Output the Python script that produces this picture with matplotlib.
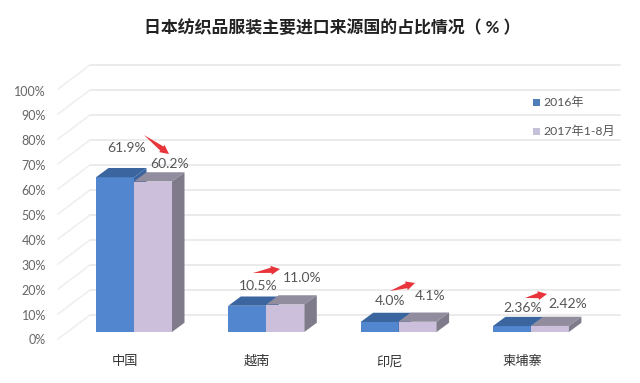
import matplotlib
matplotlib.use("Agg")
import numpy as np
import matplotlib.pyplot as plt
from matplotlib.patches import Polygon
from matplotlib.transforms import Affine2D

plt.rcParams['font.family'] = ['Lato', 'Noto Sans CJK SC', 'DejaVu Sans']

countries = ['中国', '越南', '印尼', '柬埔寨']
series_names = ['2016年', '2017年1-8月']
values_2016 = [61.9, 10.5, 4.0, 2.36]
values_2017 = [60.2, 11.0, 4.1, 2.42]
labels_2016 = ['61.9%', '10.5%', '4.0%', '2.36%']
labels_2017 = ['60.2%', '11.0%', '4.1%', '2.42%']
y_ticks = list(range(0, 101, 10))

W, H = 640, 383
# pixels of the picture -> display, y going down like in the reference
px = Affine2D().scale(1, -1).translate(0, H)

fig = plt.figure(figsize=(W / 100, H / 100), dpi=100)
ax = fig.add_axes([0, 0, 1, 1])
ax.axis('off')

# 132.3 px between groups, 2.5 px per percent, zero at y=332
ax.set_xlim(-134 / 132.3, (W - 134) / 132.3)
ax.set_ylim((332 - H) / 2.5, 332 / 2.5)

x = np.arange(len(countries))
bw = 38 / 132.3
dx = 12.5 / 132.3
dy = 3.7

# 3d walls: back gridlines and the slanted bit on the left
back = 6.8
front = -2.8
x_back = (90 - 134) / 132.3
x_front = (58 - 134) / 132.3
x_end = (620 - 134) / 132.3
for t in y_ticks:
    ax.plot([x_back, x_end], [t + back, t + back], color='#e6e6e6', lw=1.1, zorder=1)
    ax.plot([x_front, x_back], [t + front, t + back], color='#eeeeee', lw=1.1, zorder=1)
    ax.text(46, 340.5 - 2.49 * t, '%d%%' % t, transform=px, ha='right', va='center',
            fontsize=9, color='#666666')

colors = [('#5286cf', '#3a659f', '#3a659f'), ('#cbbfdc', '#928c9f', '#7f7b8b')]


def bar3d(xpos, vals, cols, z):
    ax.bar(xpos, vals, bw, align='edge', color=cols[0], zorder=z)
    for xi, v in zip(xpos, vals):
        ax.add_patch(Polygon([(xi, v), (xi + bw, v), (xi + bw + dx, v + dy), (xi + dx, v + dy)],
                             color=cols[1], lw=0, zorder=z))
        ax.add_patch(Polygon([(xi + bw, 0), (xi + bw + dx, dy), (xi + bw + dx, v + dy), (xi + bw, v)],
                             color=cols[2], lw=0, zorder=z))


bar3d(x - bw, values_2016, colors[0], 3)
bar3d(x, values_2017, colors[1], 4)

# label offsets from the bar's left edge and top, in px
off_2016 = [(31, 29), (30, 20), (29, 21), (30, 18)]
off_2017 = [(36, 17), (36, 27), (32, 26), (37, 22)]
for i in range(len(countries)):
    ax.annotate(labels_2016[i], (x[i] - bw, values_2016[i]), xytext=(off_2016[i][0] * 0.72, off_2016[i][1] * 0.72),
                textcoords='offset points', ha='center', va='center', fontsize=10,
                color='#555555', zorder=6)
    ax.annotate(labels_2017[i], (x[i], values_2017[i]), xytext=(off_2017[i][0] * 0.72, off_2017[i][1] * 0.72),
                textcoords='offset points', ha='center', va='center', fontsize=10,
                color='#555555', zorder=6)
    ax.text(x[i] - 9 / 132.3, -11.6, countries[i], ha='center', va='center', fontsize=9.5, color='#333333')

# red tapered arrows between the labels
arrows = [((144, 135), (169, 154)), ((253, 273), (280, 269)), ((390, 291), (415, 283)), ((525, 298), (547, 294))]
for (x0, y0), (x1, y1) in arrows:
    d = np.array([x1 - x0, y1 - y0], dtype=float)
    d /= np.hypot(*d)
    n = np.array([-d[1], d[0]])
    p0 = np.array([x0, y0], dtype=float)
    tip = np.array([x1, y1], dtype=float)
    neck = tip - d * 9
    pts = [p0, neck + n * 2.6, neck + n * 4.5, tip, neck - n * 4.5, neck - n * 2.6]
    ax.add_patch(Polygon(pts, transform=px, color='#e8343a', lw=0, zorder=7))

# legend
fig_legend_y = [102, 131]
for name, col, yy in zip(series_names, ['#4f7fb8', '#c4c2d8'], fig_legend_y):
    ax.add_patch(Polygon([(533, yy - 3.5), (540, yy - 3.5), (540, yy + 3.5), (533, yy + 3.5)],
                         transform=px, color=col, lw=0, zorder=5))
    ax.text(543, yy, name, transform=px, ha='left', va='center', fontsize=8.8, color='#555555', zorder=5)

ax.text(332, 28, '日本纺织品服装主要进口来源国的占比情况（ % ）', transform=px, ha='center', va='center',
        fontsize=12.2, fontweight='bold', color='#222222')

fig.savefig('out.png', dpi=100)
